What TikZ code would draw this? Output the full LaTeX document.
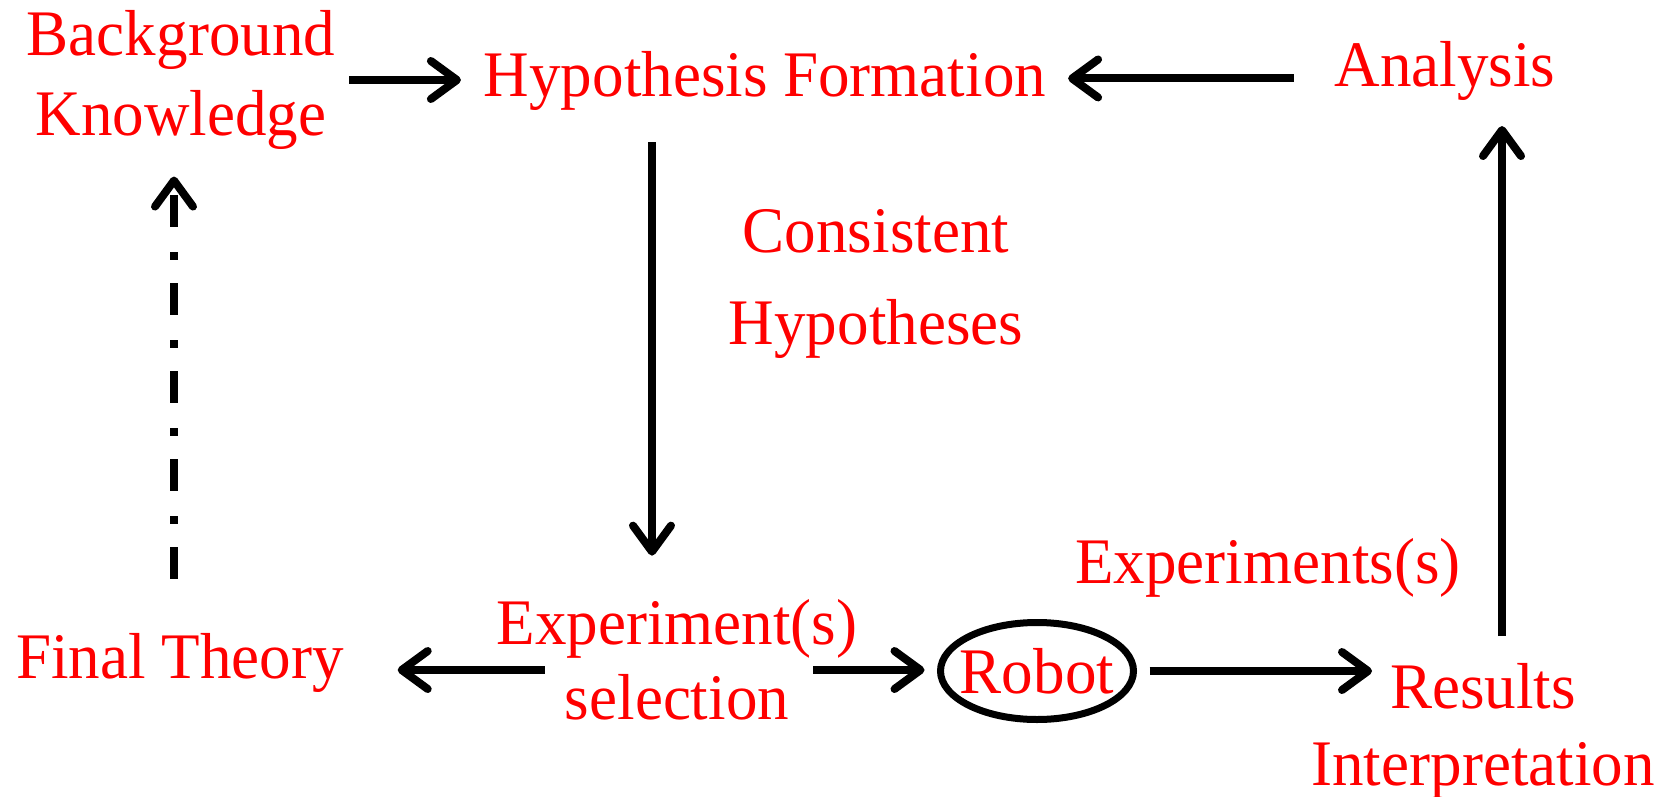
\documentclass[tikz,border=0pt]{standalone}
\usepackage{fontspec}
\setmainfont{Liberation Serif}[FakeStretch=0.97]
\usetikzlibrary{arrows.meta,calc,shapes.geometric}
\begin{document}
\begin{tikzpicture}[x=1pt,y=-1pt,
  lbl/.style={text=red, inner sep=0pt, outer sep=0pt, font=\fontsize{65}{78}\selectfont},
  arr/.style={draw=black, line width=8pt, -{Straight Barb[length=26pt,width=38pt,line cap=round,line join=round]}},
  dda/.style={arr, dash pattern=on 32pt off 23pt on 8pt off 25pt}]
\useasboundingbox (0,0) rectangle (1670,797);
% nodes
\node[lbl, align=center, font=\fontsize{65}{80}\selectfont] (bk) at (181,80) {Background\\Knowledge};
\node[lbl, anchor=base] (hf) at (765,97) {Hypothesis Formation};
\node[lbl, anchor=base] (an) at (1445,87) {Analysis};
\node[lbl, align=center, font=\fontsize{65}{92}\selectfont] (ch) at (876,284) {Consistent\\Hypotheses};
\node[lbl, align=center, font=\fontsize{65}{75}\selectfont] (es) at (677,660) {Experiment(s)\\selection};
\node[lbl, anchor=base] (ft) at (180,678) {Final Theory};
\node[lbl, draw=black, line width=7pt, ellipse, minimum width=193pt, minimum height=97pt] (rb) at (1037,671) {\makebox[0pt]{Robot}};
\node[lbl, anchor=base] (ex) at (1268,583) {Experiments(s)};
\node[lbl, align=center, font=\fontsize{65}{77}\selectfont] (ri) at (1483,731) {Results\\Interpretation};
% helper coordinates
\coordinate (anL) at ($(an.west)+(0,7)$);
\coordinate (hfD) at ($(hf.south)+(-113,0)$);
\coordinate (esL) at ($(es.west)+(48,10)$);
\coordinate (esR) at ($(es.east)+(-44,10)$);
\coordinate (riU) at ($(ri.north)+(19,0)$);
\coordinate (ftU) at ($(ft.north)+(-6,0)$);
% connectors
\draw[arr, shorten <=14pt, shorten >=23pt] (bk.east) -- (bk.east -| hf.west);
\draw[arr, shorten <=41pt, shorten >=22pt] (anL) -- (anL -| hf.east);
\draw[arr, shorten <=31pt, shorten >=44pt] (hfD) -- (hfD |- es.north);
\draw[arr, shorten >=54pt] (esL) -- (esL -| ft.east);
\draw[arr, shorten >=16pt] (esR) -- (esR -| rb.west);
\draw[arr, shorten <=16pt, shorten >=111pt] (rb.east) -- (rb.east -| ri.north);
\draw[arr, shorten <=27pt, shorten >=25pt] (riU) -- (riU |- an.south);
\draw[dda, shorten <=54pt, shorten >=27pt] (ftU) -- (ftU |- bk.south);
\end{tikzpicture}
\end{document}
